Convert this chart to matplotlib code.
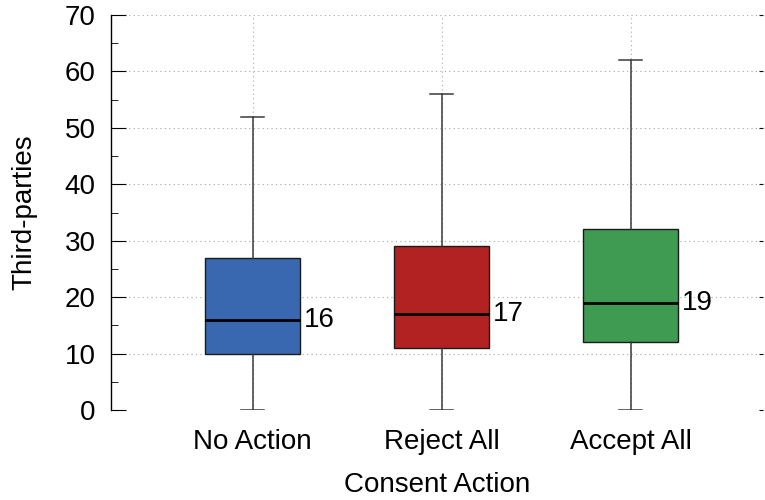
import matplotlib.pyplot as plt
from matplotlib.ticker import MultipleLocator

plt.rcParams['font.family'] = ['Liberation Sans', 'DejaVu Sans']

# box statistics per consent action
actions = ['No Action', 'Reject All', 'Accept All']
whislo = [0, 0, 0]
q1 = [10, 11, 12]
med = [16, 17, 19]
q3 = [27, 29, 32]
whishi = [52, 56, 62]
colors = ['#3a68b0', '#b22222', '#3f9a52']

stats = []
for i, name in enumerate(actions):
    stats.append({'label': name, 'whislo': whislo[i], 'q1': q1[i], 'med': med[i],
                  'q3': q3[i], 'whishi': whishi[i], 'fliers': []})

fig = plt.figure(figsize=(7.65, 5.0), dpi=100)
ax = fig.add_axes([111 / 765, 90 / 500, 652 / 765, 395 / 500])

pos = [1, 2, 3]
bp = ax.bxp(stats, positions=pos, widths=0.5, patch_artist=True, showfliers=False,
            boxprops=dict(edgecolor='#1a1a1a', linewidth=1.0),
            medianprops=dict(color='black', linewidth=2.0),
            whiskerprops=dict(color='#3a3a3a', linewidth=1.1),
            capprops=dict(color='#3a3a3a', linewidth=1.1),
            capwidths=0.12, zorder=3)
for patch, c in zip(bp['boxes'], colors):
    patch.set_facecolor(c)

# median value next to each box
for p, m in zip(pos, med):
    ax.annotate(str(m), xy=(p + 0.25, m), xytext=(3, 0), textcoords='offset points',
                va='center', ha='left', fontsize=20)

ax.set_xlim(0.25, 3.7)
ax.set_ylim(0, 70)
ax.yaxis.set_major_locator(MultipleLocator(10))
ax.yaxis.set_minor_locator(MultipleLocator(5))
ax.grid(True, which='major', linestyle=(0, (1, 3)), color='#a8a8a8', linewidth=0.8, zorder=0)

for s in ['top', 'right', 'bottom']:
    ax.spines[s].set_visible(False)
ax.spines['left'].set_linewidth(1.0)

ax.tick_params(axis='y', which='major', direction='in', length=11,
               labelsize=20, pad=11)
ax.tick_params(axis='y', which='minor', direction='in', length=5)
ax.tick_params(axis='x', length=0, labelsize=20, pad=14)

# short mirrored ticks on the right edge
ax2 = ax.twinx()
ax2.set_ylim(ax.get_ylim())
ax2.yaxis.set_major_locator(MultipleLocator(10))
ax2.tick_params(axis='y', direction='in', length=3, labelright=False)
for s in ax2.spines.values():
    s.set_visible(False)

ax.set_xlabel('Consent Action', fontsize=20, labelpad=12)
ax.set_ylabel('Third-parties', fontsize=20, labelpad=20)

fig.savefig('out.png')
